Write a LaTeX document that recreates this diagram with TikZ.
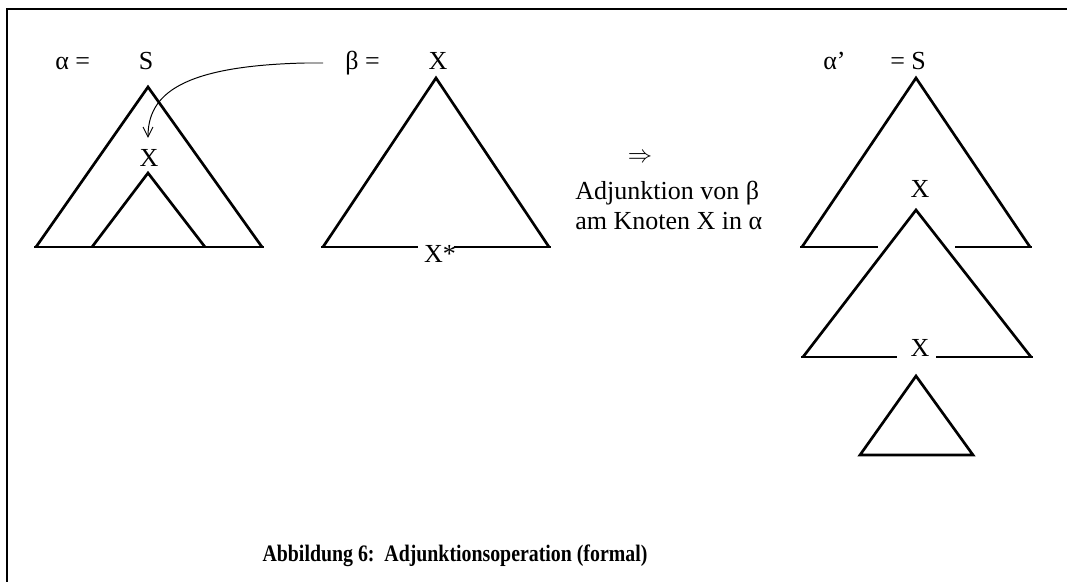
\documentclass[tikz,border=0pt]{standalone}
\usepackage{fontspec}
\setmainfont{Liberation Serif}
\usetikzlibrary{arrows.meta}

\begin{document}
\begin{tikzpicture}[x=0.025cm, y=-0.025cm,
    lbl/.style={font=\fontsize{18.5}{22}\selectfont, inner sep=0pt, anchor=base},
    tree/.style={line width=1.9pt, line join=miter},
    frame/.style={line width=1.8pt}]
  \useasboundingbox (0,0) rectangle (1067,582);
  \draw[frame] (7,582) -- (7,9) -- (1067,9);

  % alpha
  \node[lbl, anchor=base west] (alab) at (55,70) {α =};
  \node[lbl] (aS) at (146,70) {S};
  \draw[tree] (36,247) -- (148,87) -- (262,247);
  \draw[tree] (34,247) -- (264,247);
  \draw[tree] (92,247) -- (148,173) -- (205,247);
  \node[lbl] (aX) at (149,167) {X};

  % beta
  \node[lbl, anchor=base west] (blab) at (345,70) {β =};
  \node[lbl] (bX) at (438,70) {X};
  \draw[tree] (323,247) -- (436,78) -- (549,247);
  \draw[tree] (321,247) -- (418,247) (454,247) -- (551,247);
  \node[lbl] (bfoot) at (440,263) {X*};

  % adjunction arrow
  \coordinate (astart) at (323,63);
  \coordinate (aend) at (148,138);
  \draw[line width=0.7pt, -{Straight Barb[length=7pt, width=7pt, line width=0.7pt]}]
    (astart) -- (305,63) .. controls (180,66) and (148,95) .. (aend);

  % middle text
  \node[lbl, anchor=center] (impl) at (640,158) {$\Rightarrow$};
  \node[lbl, anchor=base west] (adj1) at (575,200) {Adjunktion von β};
  \node[lbl, anchor=base west] (adj2) at (575,230) {am Knoten X in α};

  % alpha'
  \node[lbl, anchor=base west] (aplab) at (823,70) {α’};
  \node[lbl, anchor=base west] (apS) at (890,70) {= S};
  \draw[tree] (802,247) -- (916,78) -- (1030,247);
  \draw[tree] (800,247) -- (878,247) (955,247) -- (1032,247);
  \node[lbl] (apX1) at (920,198) {X};
  \draw[tree] (803,357) -- (916,210) -- (1031,357);
  \draw[tree] (801,357) -- (897,357) (936,357) -- (1033,357);
  \node[lbl] (apX2) at (920,357) {X};
  \draw[tree] (860,455) -- (916,376) -- (973,455) -- cycle;

  % caption
  \node[anchor=base, inner sep=0pt] (cap) at (455,562)
    {\scalebox{0.84}[1]{\fontsize{16.8}{20}\selectfont\bfseries Abbildung 6:\ \ Adjunktionsoperation (formal)}};
\end{tikzpicture}
\end{document}
